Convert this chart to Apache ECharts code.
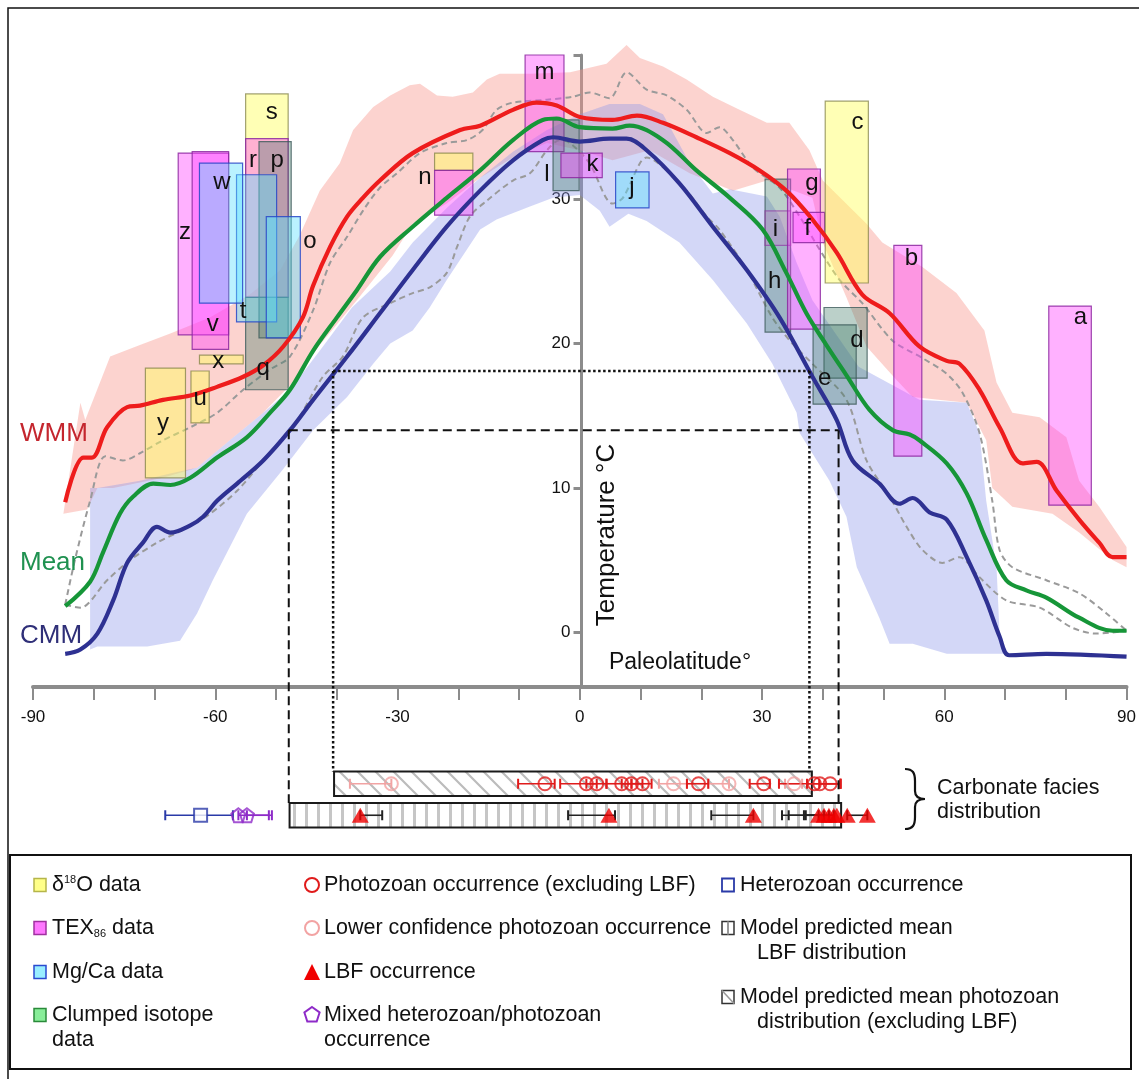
<!DOCTYPE html>
<html><head><meta charset="utf-8">
<script src="https://cdn.jsdelivr.net/npm/echarts@6/dist/echarts.min.js"></script>
<style>html,body{margin:0;padding:0;background:#fff}#c{width:1139px;height:1079px}</style>
</head><body><div id="c"></div>
<script>
// ---------------- DATA ----------------
const wmm = [[-84.7,9.0],[-81.7,12.1],[-80.3,12.1],[-77.8,14.2],[-74.5,15.6],[-72.4,15.7],[-68.6,16.1],[-64.1,16.4],[-59.7,17.0],[-55.4,17.7],[-52.1,18.5],[-48.8,19.8],[-45.6,21.8],[-43.9,24.0],[-41.1,26.7],[-38.3,28.8],[-35.7,30.1],[-32.9,31.3],[-27.5,33.2],[-19.7,34.8],[-16.4,35.1],[-11.0,36.2],[-7.1,36.7],[-3.8,36.5],[0,35.7],[5.4,35.5],[9.4,35.8],[13.7,35.3],[19.2,34.3],[24.7,33.2],[29.6,32.0],[34.0,30.6],[38.3,28.6],[42.3,26.3],[46.5,23.4],[51.0,22.1],[55.9,19.8],[60.4,18.8],[62.5,18.6],[65.8,16.8],[69.1,14.2],[72.9,11.7],[75.2,11.8],[78.5,9.8],[82.2,7.8],[85.5,6.2],[87.7,5.2],[90,5.2]];
const mean = [[-84.7,1.8],[-80.6,3.5],[-78.5,5.5],[-75.7,8.2],[-73.5,9.4],[-70.2,10.3],[-67.4,10.2],[-64.1,10.7],[-59.7,12.1],[-54.8,13.5],[-51.0,15.2],[-47.7,16.8],[-43.9,19.5],[-40.0,21.8],[-36.7,23.7],[-32.9,26.0],[-27.5,28.1],[-21.9,30.1],[-16.4,32.0],[-11.0,34.1],[-6.1,35.5],[-3.8,35.6],[0,35.0],[5.4,34.9],[8.2,35.1],[13.7,34.1],[19.2,32.0],[24.7,30.1],[30.1,27.9],[34.0,24.9],[37.3,22.1],[40.6,19.9],[43.9,17.8],[47.7,15.4],[51.5,14.0],[54.3,13.7],[55.9,13.3],[60.4,11.7],[63.7,9.6],[66.9,6.4],[70.2,3.6],[73.5,2.9],[76.8,2.4],[82.2,1.0],[87.7,0.1],[90,0.1]];
const cmm = [[-84.7,-1.5],[-82.2,-1.2],[-79.4,-0.1],[-76.8,2.2],[-74.5,4.8],[-71.9,6.2],[-69.6,7.3],[-67.4,6.9],[-64.1,7.4],[-62.0,8.0],[-59.7,9.1],[-56.4,10.3],[-52.1,11.9],[-47.7,14.0],[-43.9,16.1],[-38.3,19.1],[-32.9,22.1],[-27.5,25.1],[-21.9,28.1],[-16.4,30.6],[-11.0,32.7],[-6.1,34.1],[-4.4,34.3],[0,34.0],[4.9,34.2],[7.7,34.2],[11.0,33.4],[16.4,31.1],[21.9,28.1],[27.5,25.1],[32.9,21.8],[38.3,17.7],[42.3,14.7],[44.9,11.9],[49.3,10.3],[52.6,8.9],[54.8,9.3],[57.6,8.3],[60.4,7.8],[63.7,5.2],[66.9,2.2],[69.1,-0.3],[70.7,-1.6],[76.8,-1.5],[90,-1.7]];
const dashUpper = [[-84.7,1.9],[-83.1,5.0],[-80.6,9.1],[-78.1,12.2],[-75.2,11.9],[-72.4,12.4],[-68.6,13.3],[-64.1,14.2],[-59.7,15.2],[-55.4,16.8],[-51.0,18.2],[-47.7,19.1],[-43.9,22.3],[-41.1,25.6],[-38.3,27.4],[-35.7,29.2],[-32.9,30.8],[-30.1,31.8],[-26.3,33.2],[-21.9,33.9],[-18.6,34.1],[-16.0,34.8],[-13.7,36.2],[-11.0,36.7],[-5.4,36.9],[-1.2,37.1],[1.6,37.4],[4.9,37.0],[7.7,38.8],[11.0,37.6],[14.3,37.2],[17.6,36.2],[20.9,34.6],[23.0,35.0],[25.2,34.1],[28.5,32.2],[32.9,30.8],[36.2,28.8],[39.5,26.5],[42.8,24.4],[46.5,22.8],[51.5,20.2],[56.4,19.0],[60.4,17.9],[63.0,16.6],[65.8,13.8],[67.9,9.1],[69.1,5.7],[71.2,4.5],[76.8,3.6],[82.2,2.7],[86.7,1.3],[90,0.1]];
const dashLower = [[-84.7,1.9],[-82.2,1.7],[-77.8,3.6],[-74.0,5.0],[-69.6,6.2],[-65.3,7.1],[-60.9,8.2],[-56.4,9.8],[-52.1,11.9],[-46.5,14.7],[-42.3,17.7],[-39.0,19.1],[-35.7,21.8],[-31.2,22.8],[-27.5,23.5],[-24.7,23.9],[-21.9,24.9],[-20.2,26.7],[-18.1,28.8],[-15.3,29.9],[-11.0,31.3],[-8.2,31.8],[-5.4,33.4],[-3.3,34.1],[-1.6,33.9],[1.6,32.5],[5.4,29.7],[7.1,30.1],[9.9,32.5],[11.0,32.9],[14.3,32.0],[17.6,30.6],[20.9,28.8],[23.0,27.9],[27.5,25.1],[31.7,21.8],[35.0,20.0],[38.3,18.6],[43.9,16.1],[47.2,11.9],[51.0,9.4],[53.8,7.3],[56.4,5.7],[59.7,4.8],[62.5,5.2],[65.8,3.8],[70.2,2.2],[75.7,1.7],[81.1,0.3],[85.0,-0.1],[90,0.1]];
const pinkUpper = [[-85.0,8.2],[-82.2,15.9],[-81.4,14.7],[-77.3,19.1],[-72.4,19.9],[-67.4,20.7],[-60.9,21.8],[-54.3,23.4],[-49.3,25.1],[-46.1,27.5],[-42.8,30.6],[-39.5,32.5],[-37.3,34.8],[-34.0,36.4],[-31.2,37.2],[-28.0,37.9],[-26.3,38.0],[-23.5,37.2],[-20.9,37.1],[-17.6,37.4],[-15.3,38.3],[-13.2,38.7],[-8.2,38.7],[-1.6,38.8],[4.4,39.4],[7.7,40.7],[9.9,39.8],[13.7,39.2],[17.6,38.3],[21.9,37.1],[26.3,36.2],[30.8,35.3],[34.5,35.3],[37.8,33.4],[40.0,31.3],[47.2,28.3],[49.8,27.0],[56.4,25.3],[62.0,23.5],[66.6,20.9],[68.6,17.3],[71.2,15.2],[75.7,14.9],[80.1,13.5],[82.2,10.5],[85.5,8.7],[90,5.9]];
const pinkLower = [[-85.0,8.2],[-81.1,8.5],[-79.4,10.0],[-76.8,10.0],[-68.6,10.7],[-63.0,11.4],[-57.6,13.3],[-52.1,15.2],[-47.7,17.1],[-42.8,19.9],[-36.7,23.0],[-30.8,26.1],[-27.5,28.3],[-21.9,29.7],[-16.4,31.5],[-11.0,32.9],[-5.4,33.9],[0,33.4],[5.4,32.7],[11.5,33.4],[18.1,31.8],[25.2,30.6],[30.8,31.3],[38.3,30.1],[40.0,27.0],[43.9,23.2],[47.2,19.8],[52.1,17.5],[54.8,16.3],[63.7,15.9],[66.9,13.3],[67.9,10.0],[71.2,8.7],[77.8,8.2],[82.2,6.9],[87.7,5.0],[90,4.5]];
const blueUpper = [[-80.6,-1.2],[-80.6,10.0],[-79.4,10.0],[-72.4,10.5],[-67.4,11.0],[-63.0,11.4],[-57.6,13.3],[-52.1,15.2],[-47.7,16.8],[-42.8,19.5],[-37.5,22.5],[-31.2,25.0],[-27.5,27.0],[-21.9,29.4],[-16.4,31.5],[-11.0,33.3],[-5.4,34.8],[0,35.9],[4.9,36.6],[9.9,36.6],[13.7,35.9],[18.1,32.5],[21.9,30.4],[24.7,30.7],[30.8,30.2],[32.9,28.8],[35.7,25.6],[38.3,23.0],[45.9,18.4],[55.9,16.1],[63.7,15.9],[65.8,13.8],[66.9,9.1],[68.6,4.5],[69.1,-0.1],[70.2,-1.5]];
const blueLower = [[-80.6,-1.2],[-79.4,-1.0],[-71.2,-1.0],[-65.8,-0.6],[-63.0,1.3],[-60.4,3.6],[-54.8,8.2],[-49.0,11.2],[-43.9,14.0],[-38.3,16.3],[-34.0,18.6],[-31.2,20.0],[-27.5,20.9],[-24.7,22.5],[-21.9,24.4],[-16.4,27.9],[-13.7,28.6],[-8.2,29.5],[-4.4,30.1],[0,30.3],[3.3,29.2],[4.9,28.1],[8.0,29.0],[11.0,28.5],[16.4,27.0],[21.9,24.4],[27.5,21.4],[31.7,18.6],[35.7,15.2],[36.2,13.8],[41.1,10.5],[43.9,8.0],[45.6,4.5],[49.3,1.0],[51.0,-0.8],[54.8,-0.8],[60.4,-1.5],[70.2,-1.5]];

// proxy boxes: 0 d18O, 1 TEX86, 2 Mg/Ca, 3 clumped, 4 TEX86 (faint)
const boxLat = [[-55.0,-48.0],[-55.0,-48.0],[-55.0,-48.0],[-52.8,-47.5],[-56.5,-49.9],[-66.1,-57.8],[-63.8,-57.8],[-62.6,-55.5],[-51.6,-46.0],[-62.6,-55.4],[-64.0,-61.0],[-71.5,-64.9],[-23.9,-17.6],[-23.9,-17.6],[-9.0,-2.6],[-4.4,-0.1],[-3.1,3.7],[5.9,11.4],[30.5,34.7],[30.5,34.7],[34.2,39.6],[35.1,40.3],[40.4,47.5],[40.2,47.3],[38.4,45.5],[51.7,56.3],[77.2,84.2]];
const boxTemp = [[23.2,37.3],[23.2,34.2],[16.8,23.2],[20.4,34.0],[21.5,31.7],[20.6,33.2],[19.6,33.3],[22.8,32.5],[20.4,28.8],[18.6,19.2],[14.5,18.1],[10.7,18.3],[32.0,33.2],[28.9,32.0],[33.3,40.0],[30.6,35.5],[31.5,33.2],[29.4,31.9],[20.8,31.4],[26.8,29.2],[21.0,32.1],[27.0,29.1],[24.2,36.8],[17.6,22.5],[15.8,21.3],[12.2,26.8],[8.8,22.6]];
const boxProxy = [0,1,3,3,2,1,1,2,2,0,0,0,0,1,1,3,1,2,3,4,1,1,0,3,3,1,1];
const labelNames = ['s','r','p','w','z','o','v','t','x','q','u','y','n','m','l','k','j','c','g','f','i','h','b','d','e','a'];
const labelPos = [[-50.7,36.0],[-53.8,32.7],[-49.8,32.7],[-58.9,31.2],[-65.0,27.7],[-44.4,27.1],[-60.4,21.3],[-55.4,22.2],[-59.5,18.8],[-52.1,18.3],[-62.5,16.2],[-68.6,14.5],[-25.5,31.5],[-5.8,38.8],[-5.4,31.7],[2.1,32.4],[8.6,30.8],[45.7,35.3],[38.2,31.1],[37.5,28.0],[32.2,27.9],[32.1,24.3],[54.6,25.9],[45.6,20.2],[40.3,17.6],[82.4,21.8]];

// carbonate facies occurrences: [lat, barLow, barHigh]
const photozoan = [[-6.0,-10.4,-4.4],[0.8,-3.5,2.5],[2.5,0.8,4.1],[6.6,4.1,8.2],[8.2,6.6,10.0],[10.0,8.2,11.5],[19.2,17.3,20.8],[29.9,27.6,30.9],[38.2,32.4,42.5],[39.1,37.0,42.5],[40.8,39.0,42.5]];
const lowConf = [[-31.2,-38.0,-31.2],[15.1,12.7,17.3],[24.2,20.8,24.2],[34.9,33.4,36.2]];
const lbf = [[-36.3,-36.3,-32.7],[4.5,-2.2,5.5],[28.2,21.3,28.2],[38.9,32.9,38.9],[39.8,34.0,39.8],[40.6,36.5,40.6],[41.4,36.8,41.4],[41.9,41.9,41.9],[43.6,43.6,46.9],[46.9,46.9,46.9]];
const heterozoan = [[-62.5,-68.3,-57.2]];
const mixed = [[-56.3,-56.3,-50.8],[-54.9,-54.9,-51.3]];
// model-predicted distributions: [latLow, latHigh, CMM threshold °C]
const photozoanModel = [-40.6, 37.8, 18.1];
const lbfModel = [-47.9, 42.6, 14.0];
const xLabelStep = 30;
const yTicks = [0,10,20,30,40];
const yLabels = [0,10,20,30];

// ---------------- STYLE ----------------
const FONT = 'Liberation Sans, Arial, sans-serif';
const GRID_L = 33, GRID_R = 9;
const proxyStyle = [
  {fill:'rgba(255,255,90,0.45)', stroke:'rgba(130,130,70,0.75)'},
  {fill:'rgba(255,60,255,0.40)', stroke:'rgba(140,40,160,0.85)'},
  {fill:'rgba(90,225,255,0.42)', stroke:'rgba(40,70,200,0.85)'},
  {fill:'rgba(60,120,100,0.35)', stroke:'rgba(60,90,90,0.8)'},
  {fill:'rgba(200,120,200,0.30)', stroke:'rgba(140,40,160,0.6)'}
];
function hatch(kind){
  const c=document.createElement('canvas');
  if(kind==='diag'){ c.width=18;c.height=18; const g2=c.getContext('2d'); g2.strokeStyle='#bcbcbc'; g2.lineWidth=2.2; g2.beginPath(); g2.moveTo(-2,-2); g2.lineTo(20,20); g2.moveTo(-2,16); g2.lineTo(2,20); g2.moveTo(16,-2); g2.lineTo(20,2); g2.stroke(); }
  else { c.width=12;c.height=12; const g2=c.getContext('2d'); g2.fillStyle='#c6c6c6'; g2.fillRect(5,0,3,12); }
  return c;
}
const diagPat = {image:hatch('diag'), repeat:'repeat'};
const vertPat = {image:hatch('vert'), repeat:'repeat'};

function bandRender(upper, lower, color){
  return function(params, api){
    const pts = upper.map(p=>api.coord(p)).concat(lower.slice().reverse().map(p=>api.coord(p)));
    return {type:'polygon', shape:{points:pts}, style:{fill:color}};
  };
}
function errData(arr, row, col){
  return arr.filter(d=>d[1]!==d[2]).map(d=>[d[1],d[2],row,col]);
}
const errColors = ['#e01b1b','#f2a3a3','#222','#2a3aa8','#8e2bc8'];

const chart = echarts.init(document.getElementById('c'));
const plotW = 1139 - GRID_L - GRID_R;
const option = {
  animation:false,
  grid:[{left:GRID_L,right:GRID_R,top:55,bottom:392},{left:GRID_L,right:GRID_R,top:768,height:63}],
  xAxis:[
    {gridIndex:0,type:'value',min:-90,max:90,interval:10,
     axisLine:{onZero:false,lineStyle:{color:'#8c8c8c',width:4}},
     axisTick:{length:13,lineStyle:{color:'#8c8c8c',width:2}},
     axisLabel:{fontSize:17,color:'#111',margin:22,fontFamily:FONT,formatter:v=>v%xLabelStep===0?String(v):''},
     splitLine:{show:false}},
    {gridIndex:1,type:'value',min:-90,max:90,show:false}
  ],
  yAxis:[
    {gridIndex:0,type:'value',min:-3.8,max:40,position:'left',offset:-plotW/2,
     axisLine:{show:true,onZero:false,lineStyle:{color:'#8c8c8c',width:3}},
     axisTick:{show:true,length:8,customValues:yTicks,lineStyle:{color:'#8c8c8c',width:3}},
     axisLabel:{show:true,customValues:yLabels,fontSize:17,color:'#111',margin:11,fontFamily:FONT},
     splitLine:{show:false}},
    {gridIndex:1,type:'category',data:['LBF','Photozoan'],show:false}
  ],
  series:[
    {type:'custom',z:1,silent:true,data:[[0,0]],renderItem:bandRender(pinkUpper,pinkLower,'rgba(248,150,140,0.42)')},
    {type:'custom',z:1,silent:true,data:[[0,0]],renderItem:bandRender(blueUpper,blueLower,'rgba(140,150,235,0.38)')},
    {type:'line',z:2,data:dashUpper,showSymbol:false,smooth:0.3,lineStyle:{color:'#9a9a9a',width:2,type:[6,4]}},
    {type:'line',z:2,data:dashLower,showSymbol:false,smooth:0.3,lineStyle:{color:'#9a9a9a',width:2,type:[6,4]}},
    {type:'custom',z:3,silent:true,
     data:boxLat.map((l,i)=>[l[0],l[1],boxTemp[i][0],boxTemp[i][1],boxProxy[i]]),
     encode:{x:[0,1],y:[2,3]},
     renderItem:function(params,api){
       const p1=api.coord([api.value(0),api.value(3)]), p2=api.coord([api.value(1),api.value(2)]);
       const st=proxyStyle[api.value(4)];
       return {type:'rect',shape:{x:p1[0],y:p1[1],width:p2[0]-p1[0],height:p2[1]-p1[1]},style:{fill:st.fill,stroke:st.stroke,lineWidth:1.2}};
     }},
    {type:'line',z:5,data:wmm,showSymbol:false,smooth:0.35,lineStyle:{color:'#ee1c1c',width:4.2}},
    {type:'line',z:5,data:mean,showSymbol:false,smooth:0.35,lineStyle:{color:'#169638',width:4.2}},
    {type:'line',z:5,data:cmm,showSymbol:false,smooth:0.35,lineStyle:{color:'#2e3192',width:4.2}},
    {type:'custom',z:6,silent:true,data:labelPos,
     renderItem:function(params,api){
       const p=api.coord([api.value(0),api.value(1)]);
       return {type:'text',x:p[0],y:p[1],style:{text:labelNames[params.dataIndex],fontSize:24,fontFamily:FONT,fill:'#111',align:'center',verticalAlign:'middle'}};
     }},
    // bottom facies panel
    {type:'custom',xAxisIndex:1,yAxisIndex:1,z:2,silent:true,
     data:[[lbfModel[0],lbfModel[1],0],[photozoanModel[0],photozoanModel[1],1]],
     renderItem:function(params,api){
       const a=api.coord([api.value(0),api.value(2)]), b=api.coord([api.value(1),api.value(2)]);
       const h=api.size([0,1])[1]*0.78;
       const r={x:a[0],y:a[1]-h/2,width:b[0]-a[0],height:h};
       return {type:'group',children:[
         {type:'rect',shape:r,style:{fill:api.value(2)===1?diagPat:vertPat}},
         {type:'rect',shape:r,style:{fill:'none',stroke:'#1a1a1a',lineWidth:2}}]};
     }},
    {type:'custom',xAxisIndex:1,yAxisIndex:1,z:3,silent:true,
     data:[].concat(errData(lowConf,1,1),errData(photozoan,1,0),errData(lbf,0,2),errData(heterozoan,0,3),errData(mixed,0,4)),
     renderItem:function(params,api){
       const lo=api.coord([api.value(0),api.value(2)]), hi=api.coord([api.value(1),api.value(2)]);
       const col=errColors[api.value(3)];
       return {type:'group',children:[
         {type:'line',shape:{x1:lo[0],y1:lo[1],x2:hi[0],y2:hi[1]},style:{stroke:col,lineWidth:1.6}},
         {type:'line',shape:{x1:lo[0],y1:lo[1]-5,x2:lo[0],y2:lo[1]+5},style:{stroke:col,lineWidth:2}},
         {type:'line',shape:{x1:hi[0],y1:hi[1]-5,x2:hi[0],y2:hi[1]+5},style:{stroke:col,lineWidth:2}}]};
     }},
    {type:'scatter',xAxisIndex:1,yAxisIndex:1,z:4,symbol:'circle',symbolSize:13,data:lowConf.map(d=>[d[0],1]),itemStyle:{color:'rgba(255,255,255,0)',borderColor:'#f2a3a3',borderWidth:2}},
    {type:'scatter',xAxisIndex:1,yAxisIndex:1,z:4,symbol:'circle',symbolSize:13,data:photozoan.map(d=>[d[0],1]),itemStyle:{color:'rgba(255,255,255,0)',borderColor:'#e01b1b',borderWidth:2}},
    {type:'scatter',xAxisIndex:1,yAxisIndex:1,z:4,symbol:'triangle',symbolSize:[17,15],data:lbf.map(d=>[d[0],0]),itemStyle:{color:'#f00000'}},
    {type:'scatter',xAxisIndex:1,yAxisIndex:1,z:4,symbol:'rect',symbolSize:13,data:heterozoan.map(d=>[d[0],0]),itemStyle:{color:'#fff',borderColor:'#2a3aa8',borderWidth:2}},
    {type:'scatter',xAxisIndex:1,yAxisIndex:1,z:4,symbol:'path://M10,0 L19.5,6.9 L15.9,18.1 L4.1,18.1 L0.5,6.9 Z',symbolSize:14,data:mixed.map(d=>[d[0],0]),itemStyle:{color:'rgba(255,255,255,0)',borderColor:'#8e2bc8',borderWidth:2}}
  ]
};
chart.setOption(option);

// ---------------- ANNOTATIONS ----------------
const P0 = v=>chart.convertToPixel({gridIndex:0},v);
const P1 = v=>chart.convertToPixel({gridIndex:1},v);
const rowH = (P1([0,0])[1]-P1([0,1])[1])*0.78/2;
const els = [];
function seg(a,b,dash,w){ els.push({type:'line',z:100,shape:{x1:a[0],y1:a[1],x2:b[0],y2:b[1]},style:{stroke:'#111',lineWidth:w,lineDash:dash}}); }
(function(){
  const m=photozoanModel, a=P0([m[0],m[2]]), b=P0([m[1],m[2]]);
  const ya=P1([m[0],1])[1]-rowH;
  seg(a,b,[2.5,2.5],2.5); seg(a,[a[0],ya],[2.5,2.5],2.5); seg(b,[b[0],ya],[2.5,2.5],2.5);
  const n=lbfModel, c=P0([n[0],n[2]]), d=P0([n[1],n[2]]);
  const yb=P1([n[0],0])[1]-rowH;
  seg(c,d,[9,5],2); seg(c,[c[0],yb],[9,5],2); seg(d,[d[0],yb],[9,5],2);
})();
const LF = 21.5;
function txt(x,y,t,opt){ els.push(Object.assign({type:'text',z:100,x:x,y:y,style:Object.assign({text:t,fontSize:LF,fontFamily:FONT,fill:'#111',align:'left',verticalAlign:'middle'},opt||{})})); }
txt(607,535,'Temperature °C',{fontSize:26,align:'center'}); els[els.length-1].rotation=Math.PI/2;
txt(680,663,'Paleolatitude°',{fontSize:23,align:'center'});
txt(20,434,'WMM',{fontSize:26,fill:'#c4262e'});
txt(20,563,'Mean',{fontSize:26,fill:'#1f9150'});
txt(20,636,'CMM',{fontSize:26,fill:'#2f2f78'});
const bz=(x1,y1,c1x,c1y,c2x,c2y,x2,y2)=>els.push({type:'bezierCurve',z:100,shape:{x1:x1,y1:y1,cpx1:c1x,cpy1:c1y,cpx2:c2x,cpy2:c2y,x2:x2,y2:y2},style:{stroke:'#111',lineWidth:2.2,fill:null}});
bz(905,769,913,769,915,773,915,781);
els.push({type:'line',z:100,shape:{x1:915,y1:781,x2:915,y2:791},style:{stroke:'#111',lineWidth:2.2}});
bz(915,791,915,797,919,799,925,799);
bz(925,799,919,799,915,801,915,807);
els.push({type:'line',z:100,shape:{x1:915,y1:807,x2:915,y2:817},style:{stroke:'#111',lineWidth:2.2}});
bz(915,817,915,825,913,829,905,829);
txt(937,788,'Carbonate facies');
txt(937,812,'distribution');
els.push({type:'polyline',z:100,shape:{points:[[8,1079],[8,8],[1139,8]]},style:{stroke:'#111',lineWidth:1.5,fill:null}});
// legend
els.push({type:'rect',z:100,shape:{x:10,y:855,width:1121,height:214},style:{fill:'#fff',stroke:'#111',lineWidth:2}});
const sq=(x,y,fill,stroke)=>els.push({type:'rect',z:101,shape:{x:x,y:y-6.5,width:12,height:13},style:{fill:fill,stroke:stroke,lineWidth:1.5}});
sq(34,885,'#ffff88','#b5b54a'); sq(34,928,'#ff77ff','#a030a0'); sq(34,972,'#99eeff','#2a4ad0'); sq(34,1015,'#88ee99','#2a8a3a');
const rich={sup:{fontSize:11,verticalAlign:'top',fontFamily:FONT,fill:'#111',padding:[0,0,9,0]},sub:{fontSize:11,verticalAlign:'bottom',fontFamily:FONT,fill:'#111',padding:[9,0,0,0]},n:{fontSize:LF,fontFamily:FONT,fill:'#111'}};
els.push({type:'text',z:101,x:52,y:885,style:{text:'{n|δ}{sup|18}{n|O data}',rich:rich,verticalAlign:'middle'}});
els.push({type:'text',z:101,x:52,y:928,style:{text:'{n|TEX}{sub|86}{n| data}',rich:rich,verticalAlign:'middle'}});
txt(52,972,'Mg/Ca data'); txt(52,1015,'Clumped isotope'); txt(52,1040,'data');
els.push({type:'circle',z:101,shape:{cx:312,cy:885,r:7},style:{fill:'#fff',stroke:'#e01b1b',lineWidth:2}});
els.push({type:'circle',z:101,shape:{cx:312,cy:928,r:7},style:{fill:'#fff',stroke:'#f2a3a3',lineWidth:2}});
els.push({type:'polygon',z:101,shape:{points:[[304,980],[320,980],[312,964]]},style:{fill:'#f00000'}});
els.push({type:'polygon',z:101,shape:{points:[[312,1007],[319.6,1012.5],[316.7,1021.5],[307.3,1021.5],[304.4,1012.5]]},style:{fill:'#fff',stroke:'#8e2bc8',lineWidth:2}});
txt(324,885,'Photozoan occurrence (excluding LBF)'); txt(324,928,'Lower confidence photozoan occurrence'); txt(324,972,'LBF occurrence'); txt(324,1015,'Mixed heterozoan/photozoan'); txt(324,1040,'occurrence');
els.push({type:'rect',z:101,shape:{x:722,y:878.5,width:12,height:13},style:{fill:'#fff',stroke:'#2a3aa8',lineWidth:1.8}});
els.push({type:'rect',z:101,shape:{x:722,y:921.5,width:12,height:13},style:{fill:'#fff',stroke:'#333',lineWidth:1.5}});
els.push({type:'line',z:101,shape:{x1:728,y1:921.5,x2:728,y2:934.5},style:{stroke:'#999',lineWidth:2}});
els.push({type:'rect',z:101,shape:{x:722,y:990.5,width:12,height:13},style:{fill:'#fff',stroke:'#333',lineWidth:1.5}});
els.push({type:'line',z:101,shape:{x1:722,y1:990.5,x2:734,y2:1003.5},style:{stroke:'#999',lineWidth:1.5}});
txt(740,885,'Heterozoan occurrence'); txt(740,928,'Model predicted mean'); txt(757,953,'LBF distribution');
txt(740,997,'Model predicted mean photozoan'); txt(757,1022,'distribution (excluding LBF)');
chart.setOption({graphic:{elements:els}});
</script></body></html>
